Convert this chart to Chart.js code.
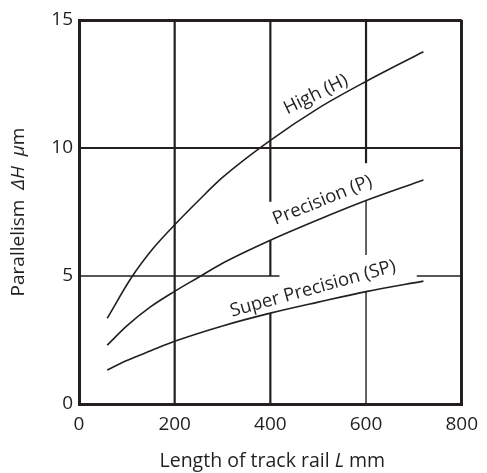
<!DOCTYPE html>
<html>
<head>
<meta charset="utf-8">
<script src="https://cdn.jsdelivr.net/npm/chart.js@4"></script>
<style>
  html, body { margin: 0; padding: 0; background: #fff; }
  #wrap { width: 487px; height: 473px; }
</style>
</head>
<body>
<div id="wrap"><canvas id="myChart" width="487" height="473"></canvas></div>
<script>
// track rail length L (mm) against parallelism (um), one curve per grade
const highL = [59, 110, 156, 200, 250, 300, 400, 500, 600, 720];
const highH = [3.35, 4.95, 6.1, 7.0, 7.95, 8.85, 10.3, 11.55, 12.6, 13.76];
const precL = [59, 100, 150, 200, 250, 300, 400, 500, 600, 720];
const precH = [2.3, 3.05, 3.8, 4.4, 4.95, 5.5, 6.4, 7.2, 7.95, 8.75];
const superL = [59, 100, 150, 200, 300, 400, 500, 600, 720];
const superH = [1.33, 1.7, 2.08, 2.45, 3.05, 3.55, 3.98, 4.39, 4.8];

const xTicks = [0, 200, 400, 600, 800];
const yTicks = [0, 5, 10, 15];

// grid segments (L, dH); null breaks the line where the curve names sit
const gridHeavy = [
  [200, 0], [200, 15], [200, null],
  [400, 15], [400, 7.9], [400, null],
  [400, 6.4], [400, 5], [400, null],
  [400, 3.55], [400, 0], [400, null],
  [600, 15], [600, 9.4], [600, null],
  [0, 10], [800, 10]
];
const gridLight = [
  [600, 7.95], [600, 5.82], [600, null],
  [600, 4.39], [600, 0], [600, null],
  [0, 5], [419, 5], [419, null],
  [706, 5], [800, 5]
];

const curveNames = [
  { text: 'High (H)', at: [500, 11.9], angle: -26 },
  { text: 'Precision (P)', at: [513, 7.76], angle: -22 },
  { text: 'Super Precision (SP)', at: [492, 4.3], angle: -15.5 }
];

const ink = '#231f20';
const family = '"Open Sans", "Noto Sans", sans-serif';

function toPoints(xs, ys) {
  return xs.map((x, i) => ({ x: x, y: ys[i] }));
}
function segPoints(list) {
  return list.map(p => ({ x: p[0], y: p[1] }));
}

// draws a run of text pieces, some italic, centred on (cx, cy)
function drawRich(ctx, parts, cx, cy, rotation, size) {
  ctx.save();
  ctx.translate(cx, cy);
  ctx.rotate(rotation);
  ctx.fillStyle = ink;
  ctx.textBaseline = 'middle';
  ctx.textAlign = 'left';
  let total = 0;
  const widths = parts.map(p => {
    ctx.font = (p[1] ? 'italic ' : '') + size + 'px ' + family;
    const w = ctx.measureText(p[0]).width;
    total += w;
    return w;
  });
  let x = -total / 2;
  parts.forEach((p, i) => {
    ctx.font = (p[1] ? 'italic ' : '') + size + 'px ' + family;
    ctx.fillText(p[0], x, 0);
    x += widths[i];
  });
  ctx.restore();
}

const labelsPlugin = {
  id: 'labelsPlugin',
  afterDatasetsDraw(chart) {
    const ctx = chart.ctx;
    const xs = chart.scales.x, ys = chart.scales.y;
    curveNames.forEach(n => {
      ctx.save();
      ctx.translate(xs.getPixelForValue(n.at[0]), ys.getPixelForValue(n.at[1]));
      ctx.rotate(n.angle * Math.PI / 180);
      ctx.font = '18.5px ' + family;
      ctx.fillStyle = ink;
      ctx.textAlign = 'center';
      ctx.textBaseline = 'alphabetic';
      ctx.fillText(n.text, 0, 0);
      ctx.restore();
    });
    const area = chart.chartArea;
    drawRich(ctx, [['Length of track rail ', false], ['L', true], [' mm', false]],
      (area.left + area.right) / 2 + 2, 461, 0, 19.5);
    drawRich(ctx, [['Parallelism  ', false], ['\u0394H', true], ['  ', false], ['\u03bc', true], ['m', false]],
      19, (area.top + area.bottom) / 2, -Math.PI / 2, 19);
  }
};

const ctx = document.getElementById('myChart').getContext('2d');
const myChart = new Chart(ctx, {
  type: 'line',
  data: {
    datasets: [
      { data: toPoints(highL, highH), borderColor: ink, borderWidth: 1.6, order: 1 },
      { data: toPoints(precL, precH), borderColor: ink, borderWidth: 1.6, order: 1 },
      { data: toPoints(superL, superH), borderColor: ink, borderWidth: 1.6, order: 1 },
      { data: segPoints(gridHeavy), borderColor: ink, borderWidth: 2.2, tension: 0, order: 2 },
      { data: segPoints(gridLight), borderColor: ink, borderWidth: 1.4, tension: 0, order: 2 }
    ]
  },
  options: {
    responsive: false,
    animation: false,
    spanGaps: false,
    layout: { padding: { left: 0, right: 18, top: 20, bottom: 0 } },
    elements: {
      point: { radius: 0 },
      line: { cubicInterpolationMode: 'monotone', fill: false }
    },
    plugins: {
      legend: { display: false },
      tooltip: { enabled: false }
    },
    scales: {
      x: {
        type: 'linear',
        min: 0, max: 800,
        afterBuildTicks: s => { s.ticks = xTicks.map(v => ({ value: v })); },
        afterFit: s => { s.height = 69; },
        border: { color: ink, width: 3 },
        grid: {
          drawTicks: false,
          lineWidth: 3,
          color: c => (c.tick && c.tick.value === 800 ? ink : 'transparent')
        },
        ticks: { color: ink, padding: 9, font: { family: family, size: 19 } }
      },
      y: {
        type: 'linear',
        min: 0, max: 15,
        afterBuildTicks: s => { s.ticks = yTicks.map(v => ({ value: v })); },
        afterFit: s => { s.width = 79; },
        border: { color: ink, width: 3 },
        grid: {
          drawTicks: false,
          lineWidth: 3,
          color: c => (c.tick && c.tick.value === 15 ? ink : 'transparent')
        },
        ticks: { color: ink, padding: 6, font: { family: family, size: 19 } }
      }
    }
  },
  plugins: [labelsPlugin]
});
</script>
</body>
</html>
